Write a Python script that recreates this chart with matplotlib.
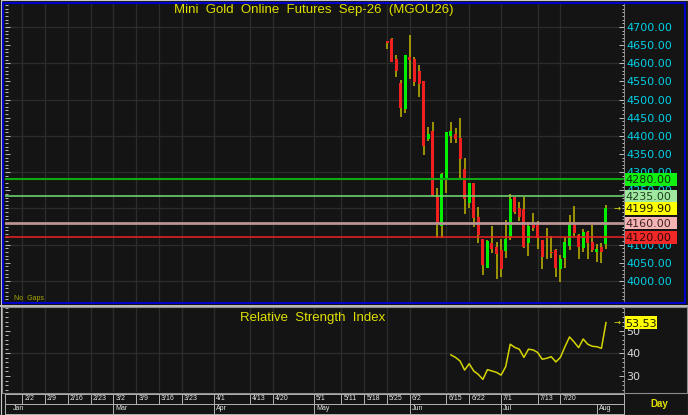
import numpy as np
import matplotlib
matplotlib.use('Agg')
import matplotlib.pyplot as plt
from matplotlib.ticker import MultipleLocator, FixedLocator, FuncFormatter, FormatStrFormatter
import matplotlib.transforms as mtrans
from matplotlib.patches import Rectangle

# ---------------- data ----------------
title = "Mini  Gold  Online  Futures  Sep-26  (MGOU26)"
rsi_title = "Relative  Strength  Index"

calendar_start = '2026-01-26'
missing_days = ['2026-06-01', '2026-06-08']
first_bar = '2026-05-25'

opens = [4661, 4666, 4611, 4546, 4473, 4616, 4611, 4578, 4551, 4391,
         4413, 4232, 4152, 4278, 4400, 4405, 4393, 4308, 4216, 4271,
         4175, 4116, 4037, 4106, 4095, 4085, 4083, 4120, 4232, 4202,
         4198, 4106, 4154, 4154, 4113, 4105, 4081, 4085, 4033, 4064,
         4097, 4156, 4127, 4092, 4136, 4108, 4081, 4093, 4102]
highs = [4661, 4670, 4622, 4554, 4624, 4679, 4616, 4596, 4551, 4425,
         4437, 4257, 4297, 4411, 4437, 4422, 4448, 4340, 4269, 4271,
         4205, 4116, 4113, 4151, 4108, 4116, 4168, 4239, 4232, 4218,
         4232, 4163, 4186, 4165, 4113, 4145, 4124, 4087, 4072, 4122,
         4182, 4207, 4129, 4143, 4138, 4154, 4101, 4104, 4209]
lows = [4639, 4604, 4563, 4453, 4464, 4558, 4538, 4508, 4347, 4386,
        4235, 4118, 4118, 4243, 4379, 4379, 4278, 4184, 4200, 4150,
        4106, 4017, 4035, 4076, 4006, 4010, 4064, 4113, 4185, 4165,
        4090, 4069, 4138, 4088, 4032, 4060, 4064, 4012, 3998, 4035,
        4085, 4125, 4060, 4081, 4061, 4079, 4051, 4049, 4088]
closes = [4657, 4604, 4578, 4478, 4624, 4609, 4549, 4544, 4373, 4405,
          4237, 4159, 4294, 4411, 4413, 4391, 4336, 4225, 4269, 4174,
          4127, 4044, 4110, 4088, 4073, 4033, 4116, 4226, 4191, 4177,
          4095, 4151, 4145, 4118, 4067, 4105, 4076, 4035, 4061, 4108,
          4156, 4131, 4095, 4134, 4104, 4085, 4088, 4079, 4199.90]

rsi_start_bar = 14
rsi_values = [39.3, 38.2, 36.6, 32.6, 35.4, 32.2, 30.7, 28.5, 32.8, 32.2,
              31.6, 30.4, 34.1, 44.0, 42.6, 41.8, 38.2, 41.8, 41.5, 40.4,
              37.4, 37.8, 38.5, 36.2, 38.2, 42.9, 47.2, 45.0, 42.5, 46.3,
              44.0, 43.1, 42.9, 42.2, 53.53]

levels = [4280.00, 4235.00, 4160.00, 4120.00]
level_line_colors = ['#12a812', '#74e074', '#b89494', '#f02020']
level_line_widths = [1.5, 1.1, 2.0, 1.1]
level_box_colors = ['#12f012', '#a0e8a0', '#f4b4b4', '#f02828']
level_text_colors = ['#0a300a', '#204020', '#402020', '#300808']
last_price = 4199.90
last_rsi = 53.53

price_ticks = [4000, 4050, 4100, 4250, 4300, 4350, 4400, 4450, 4500, 4550, 4600, 4650, 4700]

week_labels = ['2/2', '2/9', '2/16', '2/23', '3/2', '3/9', '3/16', '3/23', '4/1', '4/13',
               '4/20', '5/1', '5/11', '5/18', '5/25', '6/2', '6/15', '6/22', '7/1', '7/13', '7/20']
week_dates = ['2026-02-02', '2026-02-09', '2026-02-16', '2026-02-23', '2026-03-02', '2026-03-09',
              '2026-03-16', '2026-03-23', '2026-04-01', '2026-04-13', '2026-04-20', '2026-05-01',
              '2026-05-11', '2026-05-18', '2026-05-25', '2026-06-02', '2026-06-15', '2026-06-22',
              '2026-07-01', '2026-07-13', '2026-07-20']
month_labels = ['Mar', 'Apr', 'May', 'Jun', 'Jul', 'Aug']
month_dates = ['2026-03-02', '2026-04-01', '2026-05-01', '2026-06-02', '2026-07-01', '2026-07-30']
first_month_label = 'Jan'

# ---------------- style ----------------
W, H = 688, 415
BG = '#141414'
GRID = '#2c2c2c'
WICK = '#b4aa00'
GREEN = '#00f000'
RED = '#f02020'
CYAN = '#00d0e8'
YELLOW = '#e0e000'
SEP = '#b4b4b4'
BLUE = '#0000c8'
FRAME = '#c8c8c8'


def idx(d):
    return float(np.busday_count(calendar_start, d, holidays=missing_days))


def rect(x0, y0, x1, y1):
    return [x0 / W, 1 - y1 / H, (x1 - x0) / W, (y1 - y0) / H]


opens = np.array(opens, float)
highs = np.array(highs, float)
lows = np.array(lows, float)
closes = np.array(closes, float)
n = len(opens)
xs = idx(first_bar) + np.arange(n)
week_pos = [idx(d) for d in week_dates]
month_pos = [idx(d) for d in month_dates]
x_left = idx(week_dates[0]) - 3.9
x_right = xs[-1] + 3.84

fig = plt.figure(figsize=(W / 100, H / 100), dpi=100, facecolor=BG)

ax = fig.add_axes(rect(4.5, 4, 623.5, 302), facecolor=BG)
ax_r = fig.add_axes(rect(4.5, 307, 623.5, 392), facecolor=BG)
ax_d = fig.add_axes(rect(4.5, 393.5, 623.5, 413.5), facecolor=BG)

p_top, p_bot = 4763.3, 3942.1
r_top, r_bot = 60.4, 22.95

for a in (ax, ax_r, ax_d):
    a.set_xlim(x_left, x_right)
    a.set_xticks([])

ax.set_ylim(p_bot, p_top)
ax_r.set_ylim(r_bot, r_top)

# grids
for a in (ax, ax_r):
    for p in week_pos:
        a.axvline(p, color=GRID, lw=0.9, zorder=0.5)
for g in np.arange(4000, 4701, 100):
    ax.axhline(g, color=GRID, lw=0.9, zorder=0.5)
ax_r.axhline(40, color=GRID, lw=0.9, zorder=0.5)

# candles
up = closes >= opens
ax.vlines(xs, lows, highs, color=WICK, lw=1.2, zorder=2)
ax.bar(xs, closes - opens, bottom=opens, width=0.66,
       color=np.where(up, GREEN, RED), linewidth=0, zorder=3)

# level lines and boxes
blend = mtrans.blended_transform_factory(ax.transAxes, ax.transData)
px_per_unit = (302 - 4) / (p_top - p_bot)
hh = 6.2 / px_per_unit
for lv, lc, lw_, bc, tc in zip(levels, level_line_colors, level_line_widths,
                               level_box_colors, level_text_colors):
    ax.axhline(lv, color=lc, lw=lw_, zorder=4)
    ax.add_patch(Rectangle((1.0024, lv - hh), 0.084, 2 * hh, transform=blend,
                           facecolor=bc, edgecolor='none', clip_on=False, zorder=9))
    ax.text(1.0035, lv, f'{lv:.2f}', transform=blend, ha='left', va='center_baseline',
            fontsize=8, color=tc, zorder=10, clip_on=False, family='DejaVu Sans')

ax.add_patch(Rectangle((1.0024, last_price - hh), 0.084, 2 * hh, transform=blend,
                       facecolor='#ffff00', edgecolor='none', clip_on=False, zorder=9))
ax.text(1.0035, last_price, f'{last_price:.2f}', transform=blend, ha='left',
        va='center_baseline', fontsize=8, color='#1a1a00', zorder=10, clip_on=False)
ax.text(xs[-1] + 2.4, last_price, '\u2192', ha='center', va='center',
        fontsize=6, color=YELLOW, zorder=6)

# price axis ticks
for a in (ax, ax_r):
    for s in ('left', 'top', 'bottom'):
        a.spines[s].set_visible(False)
    a.spines['right'].set_color('#9a9a9a')
    a.spines['right'].set_linewidth(0.6)

ax.yaxis.set_major_locator(FixedLocator(price_ticks))
ax.yaxis.set_minor_locator(MultipleLocator(10))
ax.yaxis.set_major_formatter(FormatStrFormatter('%.2f'))
ax.yaxis.tick_right()
ax.tick_params(axis='y', which='both', left=True, right=True, direction='in',
               colors='#d8d8d8', labelcolor=CYAN, labelsize=8, width=0.6, pad=2)
ax.tick_params(axis='y', which='major', length=3.6)
ax.tick_params(axis='y', which='minor', length=1.8)

# RSI
rsi_x = xs[rsi_start_bar:rsi_start_bar + len(rsi_values)]
ax_r.plot(rsi_x, rsi_values, color='#d4d400', lw=1.1, zorder=3)
ax_r.yaxis.set_major_locator(FixedLocator([30, 40, 50]))
ax_r.yaxis.set_minor_locator(MultipleLocator(2))
ax_r.yaxis.set_major_formatter(FormatStrFormatter('%d'))
ax_r.yaxis.tick_right()
ax_r.tick_params(axis='y', which='both', left=True, right=True, direction='in',
                 colors='#d8d8d8', labelcolor='#d8d8d8', labelsize=8, width=0.6, pad=2)
ax_r.tick_params(axis='y', which='major', length=3.6)
ax_r.tick_params(axis='y', which='minor', length=1.8)
blend_r = mtrans.blended_transform_factory(ax_r.transAxes, ax_r.transData)
rpx = (392 - 307) / (r_top - r_bot)
ax_r.add_patch(Rectangle((1.0024, last_rsi - 6.2 / rpx), 0.052, 12.4 / rpx, transform=blend_r,
                         facecolor='#ffff00', edgecolor='none', clip_on=False, zorder=9))
ax_r.text(1.0035, last_rsi, f'{last_rsi:.2f}', transform=blend_r, ha='left',
          va='center_baseline', fontsize=8, color='#1a1a00', zorder=10, clip_on=False)
ax_r.text(rsi_x[-1] + 2.4, last_rsi, '\u2192', ha='center', va='center',
          fontsize=6, color=YELLOW, zorder=6)

# date axis
ax_d.set_ylim(0, 2)
ax_d.set_yticks([])
for s in ax_d.spines.values():
    s.set_color(SEP)
    s.set_linewidth(0.7)
ax_d.axhline(1, color=SEP, lw=0.7)
ax_d.vlines(week_pos, 1, 2, color=SEP, lw=0.7)
ax_d.vlines(month_pos, 0, 1, color=SEP, lw=0.7)
off = mtrans.offset_copy(ax_d.transData, fig=fig, x=2, y=0, units='dots')
for p, lab in zip(week_pos, week_labels):
    ax_d.text(p, 1.5, lab, transform=off, ha='left', va='center', fontsize=5,
              color='#e4e4e4', family='Liberation Sans')
for p, lab in zip(month_pos, month_labels):
    ax_d.text(p, 0.5, lab, transform=off, ha='left', va='center', fontsize=5,
              color='#e4e4e4', family='Liberation Sans')
ax_d.text(x_left + 1.5, 0.5, first_month_label, transform=off, ha='left', va='center',
          fontsize=5, color='#e4e4e4', family='Liberation Sans')

# texts
fig.text(314 / W, 1 - 10.5 / H, title, ha='center', va='center', fontsize=9.5,
         color=YELLOW, family='Liberation Sans')
fig.text(313 / W, 1 - 318 / H, rsi_title, ha='center', va='center', fontsize=9.5,
         color=YELLOW, family='Liberation Sans')
fig.text(14 / W, 1 - 298.5 / H, 'No  Gaps', ha='left', va='center', fontsize=5,
         color='#a8a800', family='Liberation Sans')
fig.text(650 / W, 1 - 404 / H, 'Day', ha='left', va='center', fontsize=7,
         color=YELLOW, family='Liberation Sans', weight='bold')

# frame overlay
ov = fig.add_axes([0, 0, 1, 1], facecolor='none', zorder=20)
ov.set_xlim(0, W)
ov.set_ylim(H, 0)
ov.axis('off')
ov.add_patch(Rectangle((0.5, 0.5), W - 1, H - 1, fill=False, ec=FRAME, lw=0.8))
ov.add_patch(Rectangle((2.8, 2.8), 682.6, 300.4, fill=False, ec=BLUE, lw=1.5))
ov.plot([0, W], [305.5, 305.5], color=FRAME, lw=1.3)
ov.add_patch(Rectangle((1.5, 306.5), 685, 86, fill=False, ec='#8c8c8c', lw=0.8))

fig.savefig('out.png', dpi=100, facecolor=BG)
